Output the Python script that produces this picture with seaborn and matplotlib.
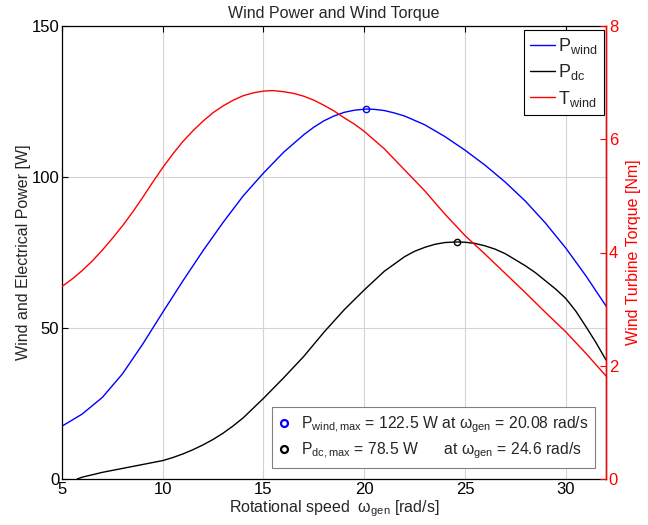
import matplotlib
matplotlib.use("Agg")
import matplotlib.pyplot as plt
import seaborn as sns
from matplotlib.lines import Line2D

# Rotational speed samples [rad/s]
omega_wind = [5, 6, 7, 8, 9, 10, 11, 12, 13, 14, 15, 16, 17, 17.5, 18, 18.5,
              19, 19.5, 20.08, 20.5, 21, 21.5, 22, 23, 24, 25, 26, 27, 28, 29,
              30, 31, 32]
# Wind power [W]
p_wind = [17.5, 21.5, 27.0, 34.8, 44.6, 55.2, 65.6, 75.6, 85.0, 93.8, 101.3,
          108.2, 114.0, 116.5, 118.6, 120.2, 121.4, 122.1, 122.5, 122.4, 122.0,
          121.2, 120.2, 117.3, 113.4, 108.9, 103.9, 98.3, 92.0, 84.7, 76.5,
          67.3, 57.3]

omega_dc = [5.75, 6, 7, 8, 9, 10, 10.5, 11, 11.5, 12, 12.5, 13, 13.5, 14, 15,
            16, 17, 18, 19, 20, 21, 22, 22.5, 23, 23.5, 24, 24.6, 25, 25.5, 26,
            26.5, 27, 28, 28.5, 29, 29.5, 30, 30.5, 31, 31.5, 32]
# DC electrical power [W]
p_dc = [0.0, 0.6, 2.2, 3.5, 4.8, 6.1, 7.1, 8.3, 9.7, 11.3, 13.1, 15.2, 17.6,
        20.3, 26.7, 33.5, 40.6, 48.6, 56.0, 62.6, 68.8, 73.6, 75.4, 76.7, 77.7,
        78.3, 78.5, 78.4, 78.0, 77.2, 76.1, 74.6, 70.6, 68.3, 65.6, 62.9, 59.8,
        55.6, 50.5, 45.2, 39.4]

omega_t = [5, 5.5, 6, 6.5, 7, 7.5, 8, 8.5, 9, 9.5, 10, 10.5, 11, 11.5, 12,
           12.5, 13, 13.5, 14, 14.5, 15, 15.45, 16, 16.5, 17, 17.5, 18, 18.5,
           19, 19.5, 20, 21, 22, 23, 24, 25, 26, 27, 28, 29, 30, 31, 32]
# Wind turbine torque [Nm]
t_wind = [3.40, 3.53, 3.68, 3.85, 4.04, 4.25, 4.47, 4.71, 4.97, 5.24, 5.50,
          5.74, 5.96, 6.15, 6.32, 6.47, 6.59, 6.69, 6.77, 6.82, 6.85, 6.86,
          6.84, 6.81, 6.76, 6.69, 6.60, 6.50, 6.38, 6.27, 6.14, 5.83, 5.46,
          5.09, 4.68, 4.30, 3.97, 3.63, 3.29, 2.94, 2.60, 2.22, 1.82]

# Maximum power points
pw_max_omega, pw_max = 20.08, 122.5
pdc_max_omega, pdc_max = 24.6, 78.5

x_ticks = [5, 10, 15, 20, 25, 30]
p_ticks = [0, 50, 100, 150]
t_ticks = [0, 2, 4, 6, 8]

sns.set_style("white")
plt.rcParams["font.family"] = ["Liberation Sans", "DejaVu Sans"]
plt.rcParams["mathtext.fontset"] = "custom"
plt.rcParams["mathtext.rm"] = "Liberation Sans"
plt.rcParams["mathtext.it"] = "Liberation Sans:italic"

FS = 11.5
TICK_FS = 12
fig = plt.figure(figsize=(6.48, 5.25), dpi=100)
ax = fig.add_axes([62 / 648, 46 / 525, 544 / 648, 453 / 525])

sns.lineplot(x=omega_wind, y=p_wind, ax=ax, color="blue", lw=1.0,
             sort=False, estimator=None)
sns.lineplot(x=omega_dc, y=p_dc, ax=ax, color="black", lw=1.0,
             sort=False, estimator=None)
ax.plot([pw_max_omega], [pw_max], "o", mfc="none", mec="blue", ms=4.5, mew=1.0)
ax.plot([pdc_max_omega], [pdc_max], "o", mfc="none", mec="black", ms=4.5, mew=1.0)

ax.set_xlim(5, 32)
ax.set_ylim(0, 150)
ax.set_xticks(x_ticks)
ax.set_yticks(p_ticks)
ax.grid(True, color="#d4d4d4", lw=0.8)
ax.set_axisbelow(True)
ax.tick_params(direction="in", top=True, right=True, length=4, width=0.8,
               labelsize=TICK_FS, colors="black", pad=2)
for s in ax.spines.values():
    s.set_color("black")
    s.set_linewidth(0.9)
ax.set_xlabel("Rotational speed  ω$\\mathregular{_{gen}}$ [rad/s]", fontsize=FS,
              labelpad=1)
ax.set_ylabel("Wind and Electrical Power [W]", fontsize=FS, labelpad=0)
ax.set_title("Wind Power and Wind Torque", fontsize=FS, pad=6)

ax2 = ax.twinx()
sns.lineplot(x=omega_t, y=t_wind, ax=ax2, color="red", lw=1.0,
             sort=False, estimator=None)
ax2.set_ylim(0, 8)
ax2.set_yticks(t_ticks)
ax2.tick_params(axis="y", direction="in", length=4, width=0.8, colors="red",
                labelsize=TICK_FS, pad=2)
ax2.spines["right"].set_color("red")
ax2.spines["right"].set_linewidth(1.0)
for side in ("left", "top", "bottom"):
    ax2.spines[side].set_visible(False)
ax2.set_ylabel("Wind Turbine Torque [Nm]", fontsize=FS, color="red", labelpad=6)

curve_handles = [
    Line2D([], [], color="blue", lw=1.0),
    Line2D([], [], color="black", lw=1.0),
    Line2D([], [], color="red", lw=1.0),
]
curve_labels = [r"$\mathregular{P_{wind}}$", r"$\mathregular{P_{dc}}$",
                r"$\mathregular{T_{wind}}$"]
leg1 = ax2.legend(curve_handles, curve_labels, loc="upper right",
                  bbox_to_anchor=(0.996, 0.992), borderaxespad=0,
                  fontsize=FS + 1.5, frameon=True, fancybox=False,
                  edgecolor="black", framealpha=1, handlelength=1.35,
                  handletextpad=0.2, labelspacing=0.35, borderpad=0.35)
leg1.get_frame().set_linewidth(0.8)
ax2.add_artist(leg1)

max_handles = [
    Line2D([], [], marker="o", ls="none", mfc="none", mec="blue", ms=5, mew=1.6),
    Line2D([], [], marker="o", ls="none", mfc="none", mec="black", ms=5, mew=1.6),
]
max_labels = [
    r"$\mathregular{P_{wind,max}}$ = 122.5 W at ω$\mathregular{_{gen}}$ = 20.08 rad/s",
    r"$\mathregular{P_{dc,max}}$ = 78.5 W      at ω$\mathregular{_{gen}}$ = 24.6 rad/s",
]
leg2 = ax2.legend(max_handles, max_labels, loc="lower right",
                  bbox_to_anchor=(0.98, 0.024), borderaxespad=0,
                  fontsize=11.3, frameon=True, fancybox=False,
                  edgecolor="#808080", framealpha=1, handlelength=0.7,
                  handletextpad=0.7, labelspacing=0.35, borderpad=0.45)
leg2.get_frame().set_linewidth(0.8)

fig.savefig("out.png", dpi=100)
